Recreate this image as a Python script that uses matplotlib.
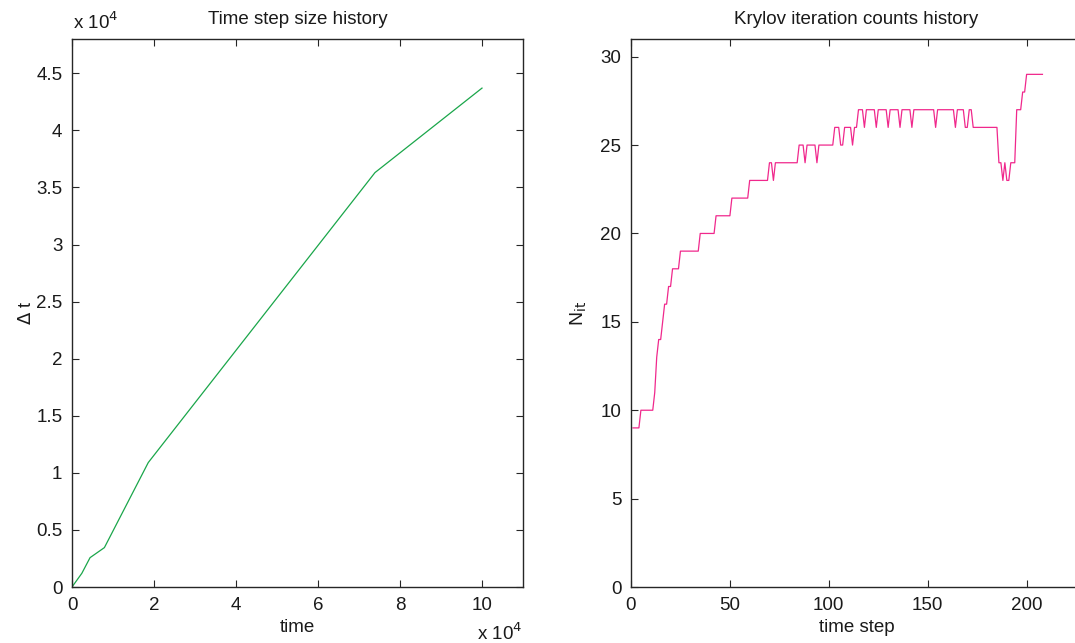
import matplotlib
matplotlib.use("Agg")
import matplotlib.pyplot as plt
from matplotlib.ticker import FuncFormatter, MultipleLocator
import numpy as np

plt.rcParams['font.family'] = ['Liberation Sans', 'DejaVu Sans']

# Left panel: time step size vs time
time_vals = [0, 2400, 4400, 7900, 18600, 73900, 100000]
dt_vals = [0, 1200, 2570, 3450, 10900, 36300, 43700]

# Right panel: Krylov iteration counts per time step (run-length: value, count)
runs = [(9, 4), (10, 7), (11, 1), (13, 1), (14, 2), (15, 1), (16, 2), (17, 2), (18, 4),
        (19, 10), (20, 8), (21, 8), (22, 9), (23, 10), (24, 2), (23, 1), (24, 12),
        (25, 3), (24, 1), (25, 5), (24, 1), (25, 8), (26, 3), (25, 2), (26, 4), (25, 1),
        (26, 2), (27, 3), (26, 1), (27, 5), (26, 1), (27, 5), (26, 1), (27, 5), (26, 1),
        (27, 5), (26, 1), (27, 11), (26, 1), (27, 9), (26, 1), (27, 4), (26, 2), (27, 2),
        (26, 13), (24, 2), (23, 1), (24, 1), (23, 2), (24, 3), (27, 3), (28, 2), (29, 9)]
n_iter = [v for v, c in runs for _ in range(c)]
steps = list(range(1, len(n_iter) + 1))

W, H = 1075, 643
fig = plt.figure(figsize=(W / 100, H / 100), dpi=100)

axc = '#262626'
txt = '#1a1a1a'
def style(ax):
    for s in ax.spines.values():
        s.set_color(axc)
        s.set_linewidth(1.0)
    ax.tick_params(direction='in', length=5, width=0.8, colors=axc, labelsize=13.5,
                   top=True, right=True, labelcolor=txt, pad=7)

# Left axes
ax1 = fig.add_axes([72 / W, (H - 587) / H, 451 / W, 548 / H])
ax1.plot(time_vals, dt_vals, color='#1aa64a', lw=0.9)
ax1.set_xlim(0, 110000)
ax1.set_ylim(0, 48000)
ax1.xaxis.set_major_locator(MultipleLocator(20000))
ax1.yaxis.set_major_locator(MultipleLocator(5000))
ax1.xaxis.set_major_formatter(FuncFormatter(lambda v, p: f"{v / 1e4:g}"))
ax1.yaxis.set_major_formatter(FuncFormatter(lambda v, p: f"{v / 1e4:g}"))
style(ax1)
ax1.set_title('Time step size history', fontsize=13.5, pad=11, color=txt)
ax1.set_xlabel('time', fontsize=13.5, color=txt)
ax1.set_ylabel(r'$\Delta$ t', fontsize=13, color=txt)
ax1.xaxis.set_label_coords(0.5, (587 - 619) / 548)
ax1.yaxis.set_label_coords((35 - 72) / 451, 0.5)
fig.text(73 / W, 1 - 22 / H, r'x 10$^{4}$', fontsize=13.5, va='center', ha='left', color=txt)
fig.text(477 / W, 1 - 633 / H, r'x 10$^{4}$', fontsize=13.5, va='center', ha='left', color=txt)

# Right axes
ax2 = fig.add_axes([631 / W, (H - 587) / H, 451 / W, 548 / H])
ax2.plot(steps, n_iter, color='#f0288c', lw=0.9)
ax2.set_xlim(0, 228)
ax2.set_ylim(0, 31)
ax2.xaxis.set_major_locator(MultipleLocator(50))
ax2.yaxis.set_major_locator(MultipleLocator(5))
style(ax2)
ax2.set_title('Krylov iteration counts history', fontsize=13.5, pad=11, color=txt)
ax2.set_xlabel('time step', fontsize=13.5, color=txt)
ax2.set_ylabel(r'N$_{\mathrm{it}}$', fontsize=14, color=txt)
ax2.xaxis.set_label_coords(0.5, (587 - 619) / 548)
ax2.yaxis.set_label_coords((589 - 631) / 451, 0.5)

fig.savefig('out.png', dpi=100)
